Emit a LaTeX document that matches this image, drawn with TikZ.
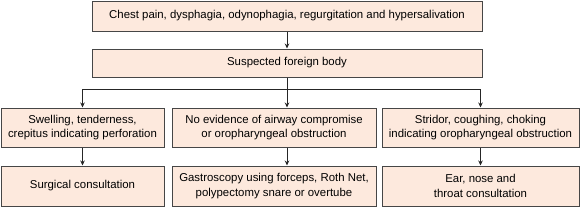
\documentclass[tikz,border=0pt]{standalone}
\usepackage{fontspec}
\setmainfont{Liberation Sans}
\usetikzlibrary{arrows.meta, positioning, calc}
\definecolor{boxfill}{RGB}{253,233,221}
\definecolor{boxline}{RGB}{70,70,70}

\begin{document}
\begin{tikzpicture}[
  x=1pt, y=-1pt,
  flowbox/.style={rectangle, draw=boxline, fill=boxfill, line width=1pt, align=center, inner sep=0pt, font=\fontsize{11.4}{14.5}\selectfont},
  wide/.style={flowbox, minimum width=390pt, minimum height=30pt},
  branch/.style={flowbox, minimum height=39pt},
  leaf/.style={flowbox, minimum height=40pt},
  arrow/.style={-{Stealth[length=5pt, width=4.5pt]}, line width=0.8pt, draw=black!85}
]
\useasboundingbox (0,0) rectangle (580,207);

% Top boxes
\node[wide] (symptoms) at (287,16) {Chest pain, dysphagia, odynophagia, regurgitation and hypersalivation};
\node[wide, minimum height=28pt] (suspect) at (287,63) {Suspected foreign body};

% Findings
\node[branch, minimum width=163pt] (perf) at (82.5,127.5) {Swelling, tenderness,\\crepitus indicating perforation};
\node[branch, minimum width=204pt] (noev) at (274,127.5) {No evidence of airway compromise\\or oropharyngeal obstruction};
\node[branch, minimum width=197pt] (stridor) at (480.5,127.5) {Stridor, coughing, choking\\indicating oropharyngeal obstruction};

% Management
\node[leaf, minimum width=163pt] (surgical) at (82.5,186) {Surgical consultation};
\node[leaf, minimum width=204pt] (gastro) at (274,186) {Gastroscopy using forceps, Roth Net,\\polypectomy snare or overtube};
\node[leaf, minimum width=197pt] (ent) at (480.5,186) {Ear, nose and\\throat consultation};

\coordinate (split) at (287,89);

\draw[arrow] (symptoms) -- (suspect);
\draw[line width=0.8pt, draw=black!85] (suspect.south) -- (split);
\draw[arrow] (split) -| (perf.north);
\draw[arrow] (split) -| (stridor.north);
\draw[arrow] (split) -- (split |- noev.north);

\draw[arrow] (perf) -- (surgical);
\draw[arrow] (noev.south -| split) -- (split |- gastro.north);
\draw[arrow] (stridor) -- (ent);

\end{tikzpicture}
\end{document}
